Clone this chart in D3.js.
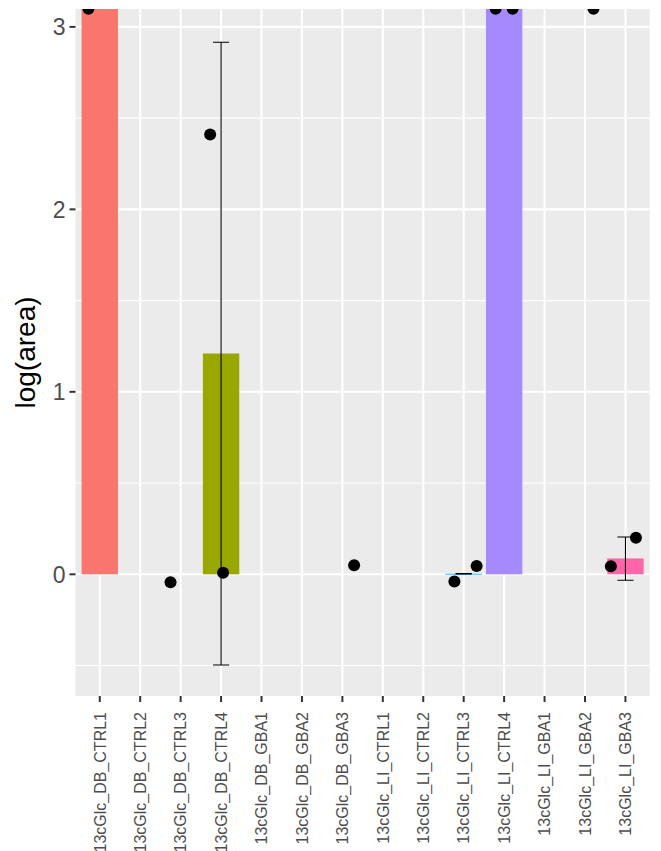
<!DOCTYPE html>
<html>
<head>
<meta charset="utf-8">
<script src="https://cdn.jsdelivr.net/npm/d3@7"></script>
<style>
  html, body { margin: 0; padding: 0; background: #ffffff; }
  svg { display: block; }
  text { font-family: "Liberation Sans", Arial, Helvetica, sans-serif; }
</style>
</head>
<body>
<svg id="chart" width="661" height="851"></svg>
<script>
// ---- data ----
const categories = [
  "13cGlc_DB_CTRL1", "13cGlc_DB_CTRL2", "13cGlc_DB_CTRL3", "13cGlc_DB_CTRL4",
  "13cGlc_DB_GBA1", "13cGlc_DB_GBA2", "13cGlc_DB_GBA3",
  "13cGlc_LI_CTRL1", "13cGlc_LI_CTRL2", "13cGlc_LI_CTRL3", "13cGlc_LI_CTRL4",
  "13cGlc_LI_GBA1", "13cGlc_LI_GBA2", "13cGlc_LI_GBA3"
];
const barColors = [
  "#F8766D", "#E38900", "#C49A00", "#99A800", "#53B400", "#00BC56", "#00C094",
  "#00BFC4", "#00B6EB", "#06A4FF", "#A58AFF", "#DF70F8", "#FB61D7", "#FF66A8"
];
// mean log(area) per sample (null = no bar); values above the panel are clipped
const barValues = [4.5, null, null, 1.21, null, null, null, null, null, 0.003, 4.5, null, null, 0.087];
const errLow    = [null, null, null, -0.497, null, null, null, null, null, 0.002, null, null, null, -0.033];
const errHigh   = [null, null, null, 2.916, null, null, null, null, null, 0.004, null, null, null, 0.204];
// individual points (category, jitter in category units, value)
const pointCat    = ["13cGlc_DB_CTRL1", "13cGlc_DB_CTRL3", "13cGlc_DB_CTRL4", "13cGlc_DB_CTRL4",
                     "13cGlc_DB_GBA3", "13cGlc_LI_CTRL3", "13cGlc_LI_CTRL3",
                     "13cGlc_LI_CTRL4", "13cGlc_LI_CTRL4", "13cGlc_LI_GBA2",
                     "13cGlc_LI_GBA3", "13cGlc_LI_GBA3"];
const pointJitter = [-0.28, -0.25, -0.27, 0.05, 0.29, -0.23, 0.32, -0.21, 0.21, 0.21, -0.36, 0.26];
const pointValue  = [3.1, -0.044, 2.41, 0.009, 0.049, -0.04, 0.045, 3.1, 3.1, 3.1, 0.044, 0.2];
const yTicks = [0, 1, 2, 3];
const yMinor = [-0.5, 0.5, 1.5, 2.5];
const yLabel = "log(area)";

// ---- layout ----
const svg = d3.select("#chart");
const panel = { left: 75.5, right: 649.7, top: 9, bottom: 696 };

const x = d3.scaleBand().domain(categories)
  .range([panel.left, panel.right]).paddingInner(0).paddingOuter(0.1);
const step = x.step();
const cx = c => x(c) + x.bandwidth() / 2;
const y = d3.scaleLinear().domain([-0.667, 3.098]).range([panel.bottom, panel.top]);

// panel background
svg.append("rect")
  .attr("x", panel.left).attr("y", panel.top)
  .attr("width", panel.right - panel.left).attr("height", panel.bottom - panel.top)
  .attr("fill", "#EBEBEB");

svg.append("defs").append("clipPath").attr("id", "pclip")
  .append("rect")
  .attr("x", panel.left).attr("y", panel.top)
  .attr("width", panel.right - panel.left).attr("height", panel.bottom - panel.top);

const grid = svg.append("g");
grid.selectAll("line.minor").data(yMinor).join("line")
  .attr("x1", panel.left).attr("x2", panel.right)
  .attr("y1", d => y(d)).attr("y2", d => y(d))
  .attr("stroke", "#ffffff").attr("stroke-width", 1.1);
grid.selectAll("line.majory").data(yTicks).join("line")
  .attr("x1", panel.left).attr("x2", panel.right)
  .attr("y1", d => y(d)).attr("y2", d => y(d))
  .attr("stroke", "#ffffff").attr("stroke-width", 2.1);
grid.selectAll("line.majorx").data(categories).join("line")
  .attr("x1", d => cx(d)).attr("x2", d => cx(d))
  .attr("y1", panel.top).attr("y2", panel.bottom)
  .attr("stroke", "#ffffff").attr("stroke-width", 2.1);

const plot = svg.append("g").attr("clip-path", "url(#pclip)");

// bars
const barData = categories.map((c, i) => ({ c, v: barValues[i], col: barColors[i], lo: errLow[i], hi: errHigh[i] }));
plot.selectAll("rect.bar").data(barData.filter(d => d.v !== null)).join("rect")
  .attr("x", d => cx(d.c) - 0.45 * step)
  .attr("width", 0.9 * step)
  .attr("y", d => Math.min(y(d.v), y(0)))
  .attr("height", d => Math.max(Math.abs(y(0) - y(d.v)), 0.8))
  .attr("fill", d => d.col);

// error bars
const eb = barData.filter(d => d.lo !== null);
const ebw = 0.2 * step;
const eg = plot.append("g").attr("stroke", "#000000").attr("stroke-width", 1.1).attr("fill", "none");
eg.selectAll("line.v").data(eb).join("line")
  .attr("x1", d => cx(d.c)).attr("x2", d => cx(d.c))
  .attr("y1", d => y(d.lo)).attr("y2", d => y(d.hi));
eg.selectAll("line.t").data(eb).join("line")
  .attr("x1", d => cx(d.c) - ebw).attr("x2", d => cx(d.c) + ebw)
  .attr("y1", d => y(d.hi)).attr("y2", d => y(d.hi));
eg.selectAll("line.b").data(eb).join("line")
  .attr("x1", d => cx(d.c) - ebw).attr("x2", d => cx(d.c) + ebw)
  .attr("y1", d => y(d.lo)).attr("y2", d => y(d.lo));

// points
const pts = pointCat.map((c, i) => ({ c, j: pointJitter[i], v: pointValue[i] }));
plot.selectAll("circle.pt").data(pts).join("circle")
  .attr("cx", d => cx(d.c) + d.j * step)
  .attr("cy", d => y(d.v))
  .attr("r", 6)
  .attr("fill", "#000000");

// y axis
const ya = svg.append("g");
ya.selectAll("line").data(yTicks).join("line")
  .attr("x1", panel.left - 6).attr("x2", panel.left)
  .attr("y1", d => y(d)).attr("y2", d => y(d))
  .attr("stroke", "#333333").attr("stroke-width", 2);
ya.selectAll("text").data(yTicks).join("text")
  .attr("x", panel.left - 10).attr("y", d => y(d))
  .attr("dy", "0.36em")
  .attr("text-anchor", "end")
  .attr("font-size", 23)
  .attr("fill", "#4D4D4D")
  .text(d => d);

// x axis
const xa = svg.append("g");
xa.selectAll("line").data(categories).join("line")
  .attr("x1", d => cx(d)).attr("x2", d => cx(d))
  .attr("y1", panel.bottom).attr("y2", panel.bottom + 6)
  .attr("stroke", "#333333").attr("stroke-width", 2);
xa.selectAll("text").data(categories).join("text")
  .attr("transform", d => `translate(${cx(d)},${panel.bottom + 16}) rotate(-90)`)
  .attr("dy", "0.36em")
  .attr("text-anchor", "end")
  .attr("font-size", 16)
  .attr("fill", "#4D4D4D")
  .text(d => d);

// y title
svg.append("text")
  .attr("transform", `translate(35,${(panel.top + panel.bottom) / 2}) rotate(-90)`)
  .attr("text-anchor", "middle")
  .attr("font-size", 28)
  .attr("fill", "#000000")
  .text(yLabel);
</script>
</body>
</html>
